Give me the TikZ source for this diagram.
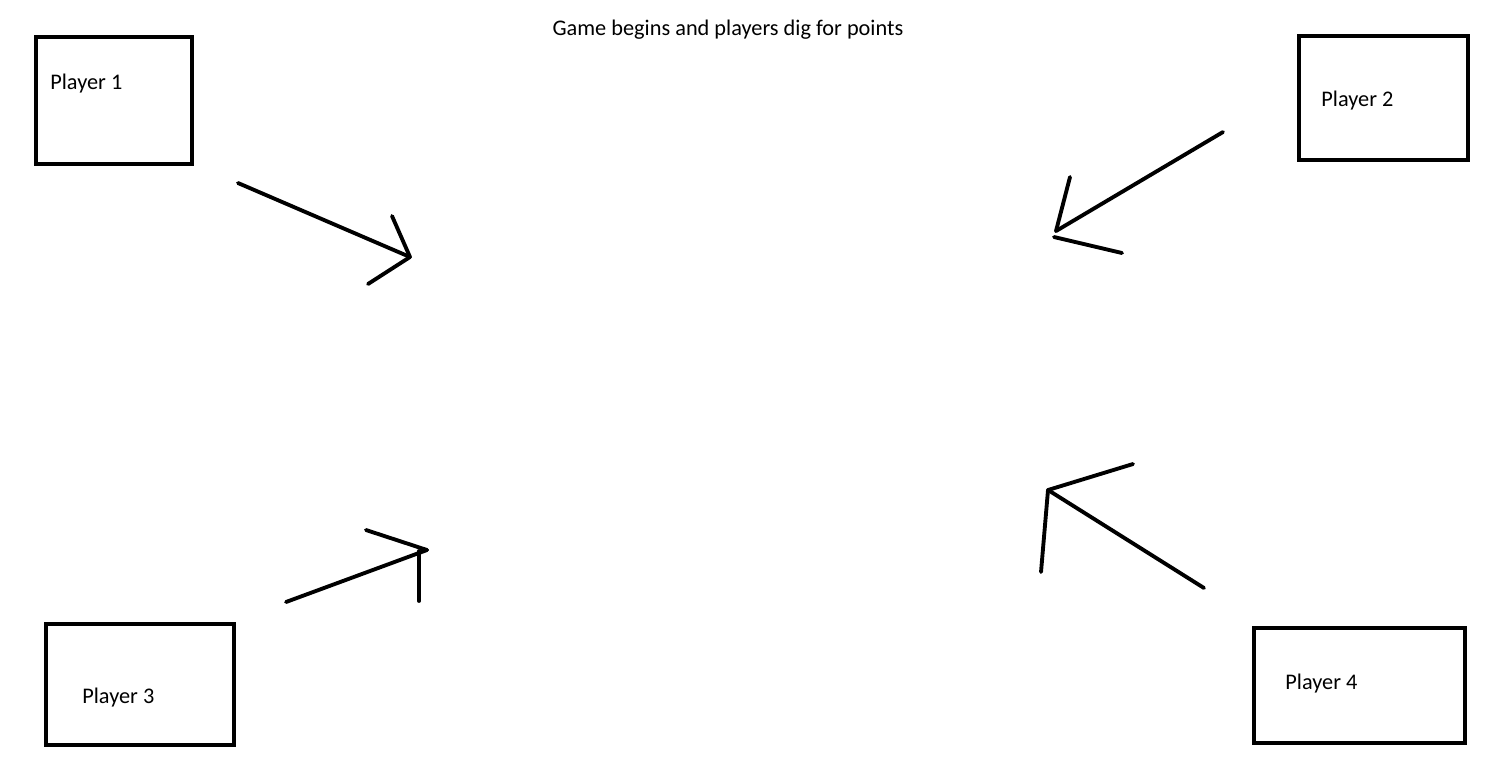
\documentclass[tikz,border=0pt]{standalone}
\usepackage{fontspec}
\setmainfont{Carlito}
\usetikzlibrary{positioning}

\begin{document}
\begin{tikzpicture}[
  x=0.02cm, y=-0.02cm,
  font=\fontsize{12.7pt}{15pt}\selectfont,
  player/.style={draw=black, line width=2.3pt, inner sep=0pt},
  lbl/.style={inner sep=0pt, anchor=west},
  stroke/.style={line width=2.2pt, draw=black, line cap=round, line join=round}
]
\useasboundingbox (0,0) rectangle (1506,772);
\node (title) at (728,30) {Game begins and players dig for points};
% player boxes
\node[player, minimum width=3.12cm, minimum height=2.54cm] (P1) at (114,100.5) {};
\node[player, minimum width=3.38cm, minimum height=2.48cm] (P2) at (1383.5,98) {};
\node[player, minimum width=3.76cm, minimum height=2.42cm] (P3) at (140,684.5) {};
\node[player, minimum width=4.22cm, minimum height=2.30cm] (P4) at (1359.5,685.5) {};
\node[lbl] (L1) at (50,84) {Player 1};
\node[lbl] (L2) at (1321,101) {Player 2};
\node[lbl] (L3) at (82,698) {Player 3};
\node[lbl] (L4) at (1285,684) {Player 4};
% hand drawn arrows
\coordinate (a1s) at (238,183);
\coordinate (a1t) at (410,257);
\draw[stroke] (a1s) -- (a1t);
\draw[stroke] (392,216) -- (a1t) -- (368,284);
\coordinate (a2s) at (1223,132);
\coordinate (a2t) at (1056,231);
\draw[stroke] (a2s) -- (a2t);
\draw[stroke] (1070,177) -- (a2t);
\draw[stroke] (1054,237) -- (1122,253);
\coordinate (a3s) at (286,602);
\coordinate (a3t) at (427,550);
\draw[stroke] (a3s) -- (a3t);
\draw[stroke] (366,530) -- (a3t);
\draw[stroke] (419,601) -- (419,551);
\coordinate (a4s) at (1204,588);
\coordinate (a4t) at (1048,490);
\draw[stroke] (a4s) -- (a4t);
\draw[stroke] (1133,464) -- (a4t) -- (1041,572);
\end{tikzpicture}
\end{document}
